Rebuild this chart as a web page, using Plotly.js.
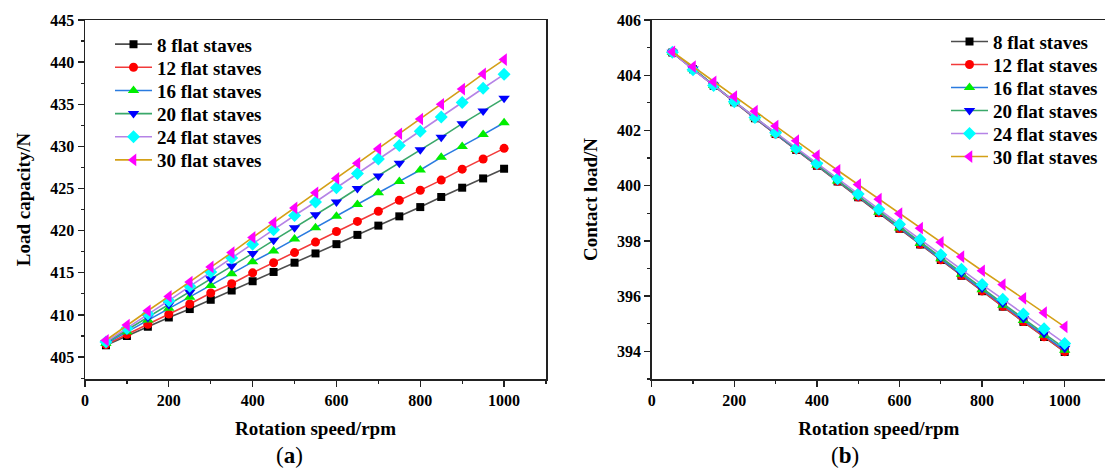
<!DOCTYPE html>
<html>
<head>
<meta charset="utf-8">
<script src="https://cdn.plot.ly/plotly-3.0.1.min.js"></script>
<style>html,body{margin:0;padding:0;background:#fff;overflow:hidden;}#chart{width:1110px;height:468px;}</style>
</head>
<body>
<div id="chart"></div>
<script>
const speed = [50,100,150,200,250,300,350,400,450,500,550,600,650,700,750,800,850,900,950,1000];
const seriesNames = ["8 flat staves","12 flat staves","16 flat staves","20 flat staves","24 flat staves","30 flat staves"];

// (a) Load capacity / N
const load8  = [406.4,407.5,408.6,409.7,410.7,411.8,412.9,414.0,415.1,416.2,417.3,418.4,419.5,420.6,421.7,422.8,424.0,425.1,426.2,427.35];
const load12 = [406.5,407.7,408.9,410.1,411.3,412.6,413.7,415.0,416.2,417.4,418.65,419.9,421.1,422.3,423.6,424.8,426.0,427.3,428.5,429.77];
const load16 = [406.6,408.0,409.4,410.8,412.1,413.5,414.9,416.3,417.6,419.0,420.35,421.7,423.1,424.5,425.85,427.2,428.7,430.0,431.4,432.8];
const load20 = [406.7,408.2,409.7,411.2,412.7,414.3,415.8,417.3,418.85,420.35,421.9,423.4,425.0,426.5,428.0,429.6,431.1,432.7,434.2,435.7];
const load24 = [406.8,408.4,410.1,411.7,413.4,415.1,416.75,418.4,420.1,421.8,423.4,425.1,426.8,428.5,430.1,431.8,433.5,435.2,436.9,438.55];
const load30 = [407.0,408.8,410.5,412.2,413.9,415.7,417.4,419.2,420.95,422.7,424.5,426.2,428.0,429.7,431.5,433.25,435.0,436.8,438.6,440.3];

// (b) Contact load / N
const contact8  = [404.82,404.22,403.62,403.02,402.44,401.87,401.29,400.72,400.15,399.58,399.01,398.44,397.87,397.31,396.74,396.18,395.62,395.07,394.52,393.98];
const contact12 = [404.82,404.22,403.62,403.03,402.45,401.87,401.30,400.73,400.16,399.59,399.02,398.45,397.88,397.32,396.75,396.19,395.63,395.08,394.53,393.99];
const contact16 = [404.83,404.23,403.63,403.04,402.46,401.88,401.31,400.74,400.17,399.60,399.04,398.47,397.91,397.35,396.79,396.23,395.67,395.12,394.58,394.04];
const contact20 = [404.83,404.23,403.64,403.05,402.47,401.89,401.32,400.76,400.19,399.63,399.07,398.51,397.95,397.39,396.84,396.29,395.74,395.19,394.65,394.11];
const contact24 = [404.83,404.20,403.63,403.04,402.47,401.92,401.36,400.80,400.25,399.70,399.15,398.60,398.05,397.50,396.97,396.42,395.89,395.35,394.82,394.29];
const contact30 = [404.85,404.31,403.76,403.23,402.70,402.16,401.63,401.09,400.56,400.04,399.51,398.99,398.46,397.95,397.43,396.92,396.42,395.92,395.40,394.89];

const loadSeries = [load8,load12,load16,load20,load24,load30];
const contactSeries = [contact8,contact12,contact16,contact20,contact24,contact30];

const lineColors = ["#4d4d4d","#f23a3a","#2a7be0","#3aa86a","#b583e6","#d4a017"];
const markerColors = ["#000000","#ff0000","#00ee00","#0000ff","#00ffff","#ff00ff"];
const symbols = ["square","circle","triangle-up","triangle-down","diamond","triangle-left"];
const sizes = [8,9,10,10,10,11];

const W = 1110, H = 468;
const FONT = "Liberation Serif";
const legFont = {family:FONT,size:19,color:'#000',weight:'bold'};
const traces = [];
const layout = {
  width:W,height:H,
  margin:{l:0,r:0,t:0,b:0},
  paper_bgcolor:'#fff',plot_bgcolor:'#fff',
  font:{family:FONT},
  showlegend:true,
  annotations:[]
};
// one legend per item so the row spacing can follow the reference
const leftLeg = {x:110, y0:44.3, dy:23.15};
const rightLeg = {x:946, y0:41.7, dy:23.0};
function addLegend(idx, px, py){
  const key = idx === 1 ? 'legend' : 'legend' + idx;
  layout[key] = {x:px/W, y:1-py/H, xanchor:'left', yanchor:'middle', bgcolor:'rgba(0,0,0,0)',
    font:legFont, itemwidth:37, borderwidth:0};
  return key;
}
seriesNames.forEach((n,i)=>{
  const lg = addLegend(i+1, leftLeg.x, leftLeg.y0 + leftLeg.dy*i);
  traces.push({x:speed,y:loadSeries[i],name:n,type:'scatter',mode:'lines+markers',
    line:{color:lineColors[i],width:1.6},
    marker:{symbol:symbols[i],size:sizes[i],color:markerColors[i]},
    xaxis:'x',yaxis:'y',legend:lg});
});
seriesNames.forEach((n,i)=>{
  const lg = addLegend(i+7, rightLeg.x, rightLeg.y0 + rightLeg.dy*i);
  traces.push({x:speed,y:contactSeries[i],name:n,type:'scatter',mode:'lines+markers',
    line:{color:lineColors[i],width:1.6},
    marker:{symbol:symbols[i],size:sizes[i],color:markerColors[i]},
    xaxis:'x2',yaxis:'y2',legend:lg});
});

const tickFont = {family:FONT,size:16,color:'#000',weight:'bold'};
const titleFont = {family:FONT,size:19,color:'#000',weight:'bold'};
function axis(extra){
  return Object.assign({
    showline:true,linecolor:'#222',linewidth:1.5,mirror:true,
    ticks:'outside',ticklen:6,tickwidth:1.3,tickcolor:'#222',
    showgrid:false,zeroline:false,tickfont:tickFont
  },extra);
}
const yDom = [(H-379)/H, (H-20)/H];
layout.xaxis = axis({domain:[85/W,546/W],anchor:'y',range:[0,1100],dtick:200,tick0:0,
    minor:{dtick:100,ticklen:3,ticks:'outside',tickcolor:'#222',tickwidth:1.2},
    title:{text:'Rotation speed/rpm',font:titleFont,standoff:14}});
layout.yaxis = axis({domain:yDom,anchor:'x',range:[402.4,445],dtick:5,tick0:405,
    minor:{dtick:2.5,ticklen:3,ticks:'outside',tickcolor:'#222',tickwidth:1.2},
    title:{text:'Load capacity/N',font:titleFont,standoff:14}});
layout.xaxis2 = axis({domain:[651.7/W,1106/W],anchor:'y2',range:[0,1100],dtick:200,tick0:0,
    minor:{dtick:100,ticklen:3,ticks:'outside',tickcolor:'#222',tickwidth:1.2},
    title:{text:'Rotation speed/rpm',font:titleFont,standoff:14}});
layout.yaxis2 = axis({domain:yDom,anchor:'x2',range:[393,406],dtick:2,tick0:394,
    minor:{dtick:1,ticklen:3,ticks:'outside',tickcolor:'#222',tickwidth:1.2},
    title:{text:'Contact load/N',font:titleFont,standoff:14}});
layout.annotations = [
  {text:'(<b>a</b>)',xref:'paper',yref:'paper',x:289/W,y:1-455/H,xanchor:'center',yanchor:'middle',showarrow:false,font:{family:FONT,size:23,color:'#000'}},
  {text:'(<b>b</b>)',xref:'paper',yref:'paper',x:845/W,y:1-455/H,xanchor:'center',yanchor:'middle',showarrow:false,font:{family:FONT,size:23,color:'#000'}}
];
Plotly.newPlot('chart',traces,layout,{displayModeBar:false,staticPlot:true});
</script>
</body>
</html>
